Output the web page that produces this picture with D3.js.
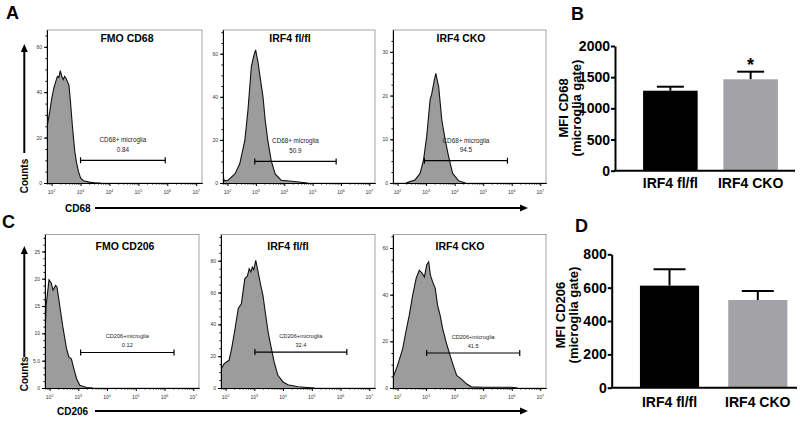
<!DOCTYPE html>
<html>
<head>
<meta charset="utf-8">
<script src="https://cdn.jsdelivr.net/npm/d3@7"></script>
<style>
  body { margin: 0; background: #fff; }
  text { font-family: "Liberation Sans", Arial, sans-serif; }
</style>
</head>
<body>
<svg id="fig" width="800" height="421"></svg>
<script>

// ---- flow histograms: [log10 intensity, counts]
var fmoCD68 = [[1.84,65],[1.86,26],[1.93,31],[2.0,37],[2.08,42],[2.15,45],[2.2,47],[2.25,46.5],[2.3,49.5],[2.35,47],[2.4,45.5],[2.45,47],[2.5,46],[2.6,43],[2.65,36],[2.7,28],[2.74,22],[2.8,14],[2.86,9],[2.93,5],[3.0,2.2],[3.1,1],[3.3,0.4],[3.5,0.1],[3.7,0]]
var flflCD68 = [[1.84,9],[1.86,2],[1.9,1],[2.02,1.3],[2.26,4.2],[2.43,8.9],[2.61,19.8],[2.72,33.8],[2.84,54],[2.92,58.7],[2.99,61.8],[3.07,56.4],[3.15,49],[3.25,40],[3.33,29],[3.42,19.8],[3.54,10.4],[3.68,4.2],[3.89,1.3],[4.36,0.7],[4.82,0]]
var ckoCD68 = [[2.3,0],[2.38,0.2],[2.61,0.7],[2.79,2.2],[2.91,5.3],[3.02,10.6],[3.14,19],[3.2,20.5],[3.29,23.6],[3.34,25.1],[3.44,22],[3.55,14.4],[3.67,9.8],[3.79,6],[3.93,2.2],[4.14,0.5],[4.38,0]]
var fmoCD206 = [[1.84,27.4],[1.855,11.5],[1.88,15.2],[1.98,19.8],[2.06,19.2],[2.12,17.9],[2.21,18.8],[2.26,18.4],[2.35,15.2],[2.47,10.9],[2.59,7.2],[2.67,5.7],[2.76,5.3],[2.84,3.6],[2.94,1.7],[3.05,0.5],[3.29,0.1],[3.5,0]]
var flflCD206 = [[1.84,11],[1.86,12.4],[1.95,15.3],[2.03,16.3],[2.12,17.4],[2.21,24.8],[2.33,37.4],[2.44,50],[2.55,53],[2.67,68.8],[2.76,70.4],[2.82,75],[2.88,73],[2.93,76],[2.98,74.4],[3.05,80.3],[3.13,73],[3.21,65.7],[3.3,58.3],[3.38,47.8],[3.48,35.2],[3.57,26.9],[3.69,16.4],[3.82,8],[4.0,3.8],[4.17,2],[4.52,0.8],[5.09,0]]
var ckoCD206 = [[1.84,4.5],[2.0,9.7],[2.18,16.9],[2.29,24],[2.41,31.2],[2.53,39.8],[2.65,47],[2.76,50.5],[2.86,49.3],[2.94,47.6],[3.02,52.7],[3.09,54.1],[3.15,48.4],[3.23,45.5],[3.32,42.7],[3.4,35.5],[3.49,31.2],[3.58,25.5],[3.7,19.7],[3.84,14],[3.95,9.7],[4.07,5.4],[4.22,4],[4.4,1.9],[4.58,0.5],[5.0,0.3],[6.0,0.3],[6.2,0]]

var histTitles = ["FMO CD68", "IRF4 fl/fl", "IRF4 CKO", "FMO CD206", "IRF4 fl/fl", "IRF4 CKO"]
var histMax = [67.4, 71, 35, 28.1, 96.5, 65.8]
var histTicks = [[0,20,40,60],[0,20,40,60],[0,10,20,30],[0,5,10,15,20,25],[0,20,40,60,80],[0,20,40,60]]
var decades = [2, 3, 4, 5, 6, 7]

// gates: [from log10, to log10, counts level]
var gates = [[3.0,5.93,10],[2.96,5.83,10],[2.94,5.85,5.1],[3.08,6.33,6.5],[3.02,6.22,22.6],[3.02,6.28,15]]
var gateNames = ["CD68+ microglia", "CD206+microglia"]
var gatePct = ["0.84", "50.9", "94.5", "0.12", "32.4", "41.5"]

// ---- MFI bar charts
var groups = ["IRF4 fl/fl", "IRF4 CKO"]
var mfiCD68 = [1283, 1466]
var semCD68 = [64, 122]
var mfiCD206 = [612, 526]
var semCD206 = [98, 54]
var ticksCD68 = [0, 500, 1000, 1500, 2000]
var ticksCD206 = [0, 200, 400, 600, 800]
var barColors = ["#000000", "#a3a3a7"]

var svg = d3.select("#fig")

// frame boxes for the six histograms
var boxes = [
    { x0: 47, x1: 202, y0: 30, y1: 183, row: 0 },
    { x0: 223, x1: 375, y0: 30, y1: 183, row: 0 },
    { x0: 393, x1: 546, y0: 30, y1: 183, row: 0 },
    { x0: 45, x1: 199, y0: 234.5, y1: 388, row: 1 },
    { x0: 221, x1: 375, y0: 234.5, y1: 388, row: 1 },
    { x0: 393, x1: 546, y0: 234.5, y1: 388, row: 1 }
]
var titleOff = [80, 67, 68, 80, 67, 67]

function plotHistogram(pts, k) {
    var box = boxes[k]
    var x = d3.scaleLog()
        .domain([Math.pow(10, 1.84), Math.pow(10, 7.2)])
        .range([box.x0, box.x1])
    var y = d3.scaleLinear()
        .domain([0, histMax[k]])
        .range([box.y1, box.y0])

    var g = svg.append("g")

    g.append("clipPath").attr("id", "clip" + k)
        .append("rect")
        .attr("x", box.x0).attr("y", box.y0)
        .attr("width", box.x1 - box.x0).attr("height", box.y1 - box.y0)

    g.append("rect")
        .attr("x", box.x0).attr("y", box.y0)
        .attr("width", box.x1 - box.x0).attr("height", box.y1 - box.y0)
        .attr("fill", "none")
        .attr("stroke", "#8c8c8c")
        .attr("stroke-width", 0.8)

    var area = d3.area()
        .x(d => x(Math.pow(10, d[0])))
        .y0(box.y1)
        .y1(d => y(d[1]))
    var line = d3.line()
        .x(d => x(Math.pow(10, d[0])))
        .y(d => y(d[1]))

    g.append("path").datum(pts)
        .attr("d", area)
        .attr("fill", "#9c9c9c")
        .attr("clip-path", "url(#clip" + k + ")")
    g.append("path").datum(pts)
        .attr("d", line)
        .attr("fill", "none")
        .attr("stroke", "#111")
        .attr("stroke-width", 1.1)
        .attr("clip-path", "url(#clip" + k + ")")

    // y axis, majors + minors
    var step = histTicks[k][1]
    var minors = d3.range(0, histMax[k], step / 4)
    g.append("g")
        .attr("transform", "translate(" + box.x0 + ",0)")
        .call(d3.axisLeft(y).tickValues(minors).tickSize(1.5).tickSizeOuter(0).tickFormat(""))
    var yAx = g.append("g")
        .attr("transform", "translate(" + box.x0 + ",0)")
        .call(d3.axisLeft(y).tickValues(histTicks[k]).tickSize(3).tickSizeOuter(0).tickPadding(2)
            .tickFormat(d => (k == 3 && d == 5) ? "5.0" : d))
    yAx.selectAll("text").attr("font-size", 5).attr("fill", "#333")
    g.selectAll(".domain").attr("stroke", "#000").attr("stroke-width", 1)

    // x axis, log ticks
    var minorX = []
    for (var e = 1; e < 7; e++) {
        for (var m = 2; m < 10; m++) {
            var v = m * Math.pow(10, e)
            if (v > x.domain()[0] && v < x.domain()[1]) minorX.push(v)
        }
    }
    var xAx = g.append("g")
        .attr("transform", "translate(0," + box.y1 + ")")
    xAx.call(d3.axisBottom(x).tickValues(minorX).tickSize(1.5).tickSizeOuter(0).tickFormat(""))
    xAx.append("g")
        .call(d3.axisBottom(x).tickValues(decades.map(d => Math.pow(10, d))).tickSize(3).tickSizeOuter(0).tickFormat(""))
    xAx.selectAll(".domain").attr("stroke", "#000")

    var lab = g.selectAll(".xlab").data(decades).enter()
        .append("text")
        .attr("x", d => x(Math.pow(10, d)))
        .attr("y", box.y1 + 11)
        .attr("text-anchor", "middle")
        .attr("font-size", 5)
        .attr("fill", "#333")
    lab.append("tspan").text("10")
    lab.append("tspan").attr("dy", -2.5).attr("font-size", 3.6).text(d => d)

    // title
    g.append("text")
        .attr("x", box.x0 + titleOff[k])
        .attr("y", box.row == 0 ? 42 : 249.5)
        .attr("text-anchor", "middle")
        .attr("font-size", 10.5)
        .attr("font-weight", "bold")
        .text(histTitles[k])

    // gate marker
    var gt = gates[k]
    var gx0 = x(Math.pow(10, gt[0])), gx1 = x(Math.pow(10, gt[1])), gy = y(gt[2])
    g.append("line")
        .attr("x1", gx0).attr("x2", gx1).attr("y1", gy).attr("y2", gy)
        .attr("stroke", "#000").attr("stroke-width", 1.2)
    g.selectAll(".cap").data([gx0, gx1]).enter()
        .append("line")
        .attr("x1", d => d).attr("x2", d => d)
        .attr("y1", gy - 3).attr("y2", gy + 3)
        .attr("stroke", "#000").attr("stroke-width", 1.2)
    var fs = box.row == 0 ? 6.3 : 5.6
    g.append("text")
        .attr("x", (gx0 + gx1) / 2)
        .attr("y", gy - (box.row == 0 ? 18 : 14))
        .attr("text-anchor", "middle")
        .attr("font-size", fs)
        .attr("fill", "#222")
        .text(gateNames[box.row])
    g.append("text")
        .attr("x", (gx0 + gx1) / 2)
        .attr("y", gy - (box.row == 0 ? 8.5 : 5))
        .attr("text-anchor", "middle")
        .attr("font-size", fs)
        .attr("fill", "#222")
        .text(gatePct[k])
}

function arrow(x1, y1, x2, y2) {
    var ang = Math.atan2(y2 - y1, x2 - x1)
    var L = 8, W = 3.5
    var bx = x2 - L * Math.cos(ang), by = y2 - L * Math.sin(ang)
    svg.append("line")
        .attr("x1", x1).attr("y1", y1).attr("x2", bx).attr("y2", by)
        .attr("stroke", "#000").attr("stroke-width", 2)
    var pts = [[x2, y2],
        [bx + W * Math.sin(ang), by - W * Math.cos(ang)],
        [bx - W * Math.sin(ang), by + W * Math.cos(ang)]]
    svg.append("path")
        .attr("d", "M" + pts.join("L") + "Z")
        .attr("fill", "#000")
}

function plotBars(vals, sems, ticks, opt) {
    var y = d3.scaleLinear()
        .domain([0, ticks[ticks.length - 1]])
        .range([opt.zero, opt.top])
    var x = d3.scaleBand()
        .domain(groups)
        .range([opt.left, opt.right])
        .paddingInner(opt.pi)
        .paddingOuter(opt.po)

    var g = svg.append("g")

    // error bars (upper only)
    groups.forEach(function (grp, i) {
        var cx = x(grp) + x.bandwidth() / 2
        g.append("line")
            .attr("x1", cx).attr("x2", cx)
            .attr("y1", y(vals[i])).attr("y2", y(vals[i] + sems[i]))
            .attr("stroke", "#000").attr("stroke-width", 2)
        g.append("line")
            .attr("x1", cx - opt.cap / 2).attr("x2", cx + opt.cap / 2)
            .attr("y1", y(vals[i] + sems[i])).attr("y2", y(vals[i] + sems[i]))
            .attr("stroke", "#000").attr("stroke-width", 2)
    })

    g.selectAll(".bar").data(vals).enter()
        .append("rect")
        .attr("x", (d, i) => x(groups[i]))
        .attr("y", d => y(d))
        .attr("width", x.bandwidth())
        .attr("height", d => y(0) - y(d))
        .attr("fill", (d, i) => barColors[i])

    var yAx = g.append("g")
        .attr("transform", "translate(" + opt.left + ",0)")
        .call(d3.axisLeft(y).tickValues(ticks).tickSize(4).tickSizeOuter(0).tickPadding(1).tickFormat(d3.format("d")))
    yAx.selectAll("text").attr("font-size", 14).attr("font-weight", "bold").attr("fill", "#000")
    yAx.selectAll("line, .domain").attr("stroke", "#000").attr("stroke-width", 2)

    var xAx = g.append("g")
        .attr("transform", "translate(0," + opt.zero + ")")
        .call(d3.axisBottom(x).tickSize(0).tickPadding(opt.pad))
    xAx.select(".domain").remove()
    xAx.selectAll("text").attr("font-size", 14).attr("font-weight", "bold").attr("fill", "#000")
    g.append("line")
        .attr("x1", opt.left - 1).attr("x2", opt.axisEnd)
        .attr("y1", opt.zero).attr("y2", opt.zero)
        .attr("stroke", "#000").attr("stroke-width", 2)

    // y title, two lines
    var t = g.append("g")
        .attr("transform", "translate(" + opt.tx + "," + opt.ty + ") rotate(-90)")
    t.append("text").attr("y", 0).attr("dy", "0.35em")
        .attr("text-anchor", "middle").attr("font-size", 13).attr("font-weight", "bold")
        .text(opt.title)
    t.append("text").attr("y", 12.5).attr("dy", "0.35em")
        .attr("text-anchor", "middle").attr("font-size", 13).attr("font-weight", "bold")
        .text("(microglia gate)")

    if (opt.star) {
        var i = groups.indexOf(opt.star)
        g.append("text")
            .attr("x", x(opt.star) + x.bandwidth() / 2)
            .attr("y", y(vals[i] + sems[i]) - 0.5)
            .attr("text-anchor", "middle")
            .attr("font-size", 18)
            .attr("font-weight", "bold")
            .text("*")
    }
}

var allHists = [fmoCD68, flflCD68, ckoCD68, fmoCD206, flflCD206, ckoCD206]
allHists.forEach(function (h, k) { plotHistogram(h, k) })

// axis arrows under / left of the histograms
arrow(95, 208, 528, 208)
arrow(24.3, 153, 24.3, 44)
arrow(95, 411, 528, 411)
arrow(24.3, 357, 24.3, 246)

svg.append("text").attr("x", 65).attr("y", 211.5).attr("font-size", 10).attr("font-weight", "bold").text("CD68")
svg.append("text").attr("x", 57).attr("y", 414.5).attr("font-size", 10).attr("font-weight", "bold").text("CD206")
svg.append("text").attr("transform", "translate(28,176) rotate(-90)").attr("text-anchor", "middle")
    .attr("font-size", 10).attr("font-weight", "bold").text("Counts")
svg.append("text").attr("transform", "translate(28,374) rotate(-90)").attr("text-anchor", "middle")
    .attr("font-size", 10).attr("font-weight", "bold").text("Counts")

plotBars(mfiCD68, semCD68, ticksCD68, {
    left: 615, right: 806, pi: 0.32, po: 0.35, zero: 170.7, top: 46,
    axisEnd: 795, cap: 27, pad: 7.5, title: "MFI CD68", tx: 563.5, ty: 108, star: "IRF4 CKO"
})
plotBars(mfiCD206, semCD206, ticksCD206, {
    left: 611.7, right: 815.6, pi: 0.33, po: 0.32, zero: 387.7, top: 254.3,
    axisEnd: 797, cap: 32, pad: 9, title: "MFI CD206", tx: 560.5, ty: 315
})

// panel letters
var letters = [["A", 6, 19], ["B", 571, 20], ["C", 2, 228], ["D", 575, 232]]
svg.selectAll(".letter").data(letters).enter()
    .append("text")
    .attr("x", d => d[1]).attr("y", d => d[2])
    .attr("font-size", 18).attr("font-weight", "bold")
    .text(d => d[0])

</script>
</body>
</html>
